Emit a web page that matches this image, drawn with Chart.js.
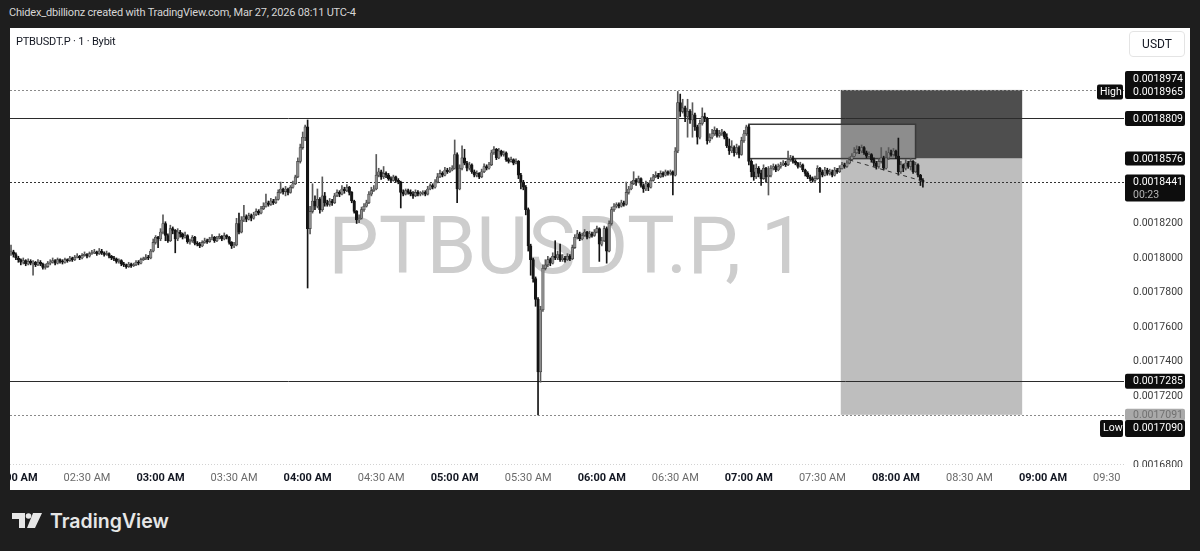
<!DOCTYPE html>
<html><head><meta charset="utf-8">
<script src="https://cdn.jsdelivr.net/npm/chart.js@4.4.1/dist/chart.umd.min.js"></script>
<style>
html,body{margin:0;padding:0;background:#1e1e1e;width:1200px;height:551px;overflow:hidden;font-family:Roboto,'Noto Sans',sans-serif;}
#hdr{position:absolute;left:9px;top:6px;color:#d6d6d6;font-size:11px;letter-spacing:-0.2px;white-space:nowrap;}
#panel{position:absolute;left:10px;top:28px;width:1180px;height:462px;background:#fff;overflow:hidden;}
#wm{position:absolute;left:0;top:178px;width:1114px;text-align:center;color:#cdcdcd;font-size:80px;line-height:80px;white-space:nowrap;}
#cv{position:absolute;left:0;top:0;}
#sym{position:absolute;left:6px;top:7px;font-size:11px;letter-spacing:-0.2px;color:#131722;white-space:nowrap;}
#usdt{position:absolute;left:1119px;top:3px;width:54px;height:24px;border:1px solid #e4e4e4;border-radius:4px;font-size:12px;line-height:24px;text-align:center;color:#131722;}
#logo{position:absolute;left:12px;top:513px;}
#tv{position:absolute;left:50px;top:511px;font-family:Inter,'Open Sans',sans-serif;font-weight:600;font-size:19.5px;line-height:20px;color:#e6e6e6;}
</style></head>
<body>
<div id="hdr">Chidex_dbillionz created with TradingView.com, Mar 27, 2026 08:11 UTC-4</div>
<div id="panel">
  <div id="wm">PTBUSDT.P, 1</div>
  <canvas id="cv" width="1180" height="462"></canvas>
  <div id="sym">PTBUSDT.P · 1 · Bybit</div>
  <div id="usdt">USDT</div>
</div>
<svg id="logo" width="31" height="16" viewBox="0 0 31 16"><path d="M0 0H13V15H7V6H0Z" fill="#e6e6e6"/><circle cx="16.5" cy="3" r="2.8" fill="#e6e6e6"/><path d="M21 0H30L23 15H15Z" fill="#e6e6e6"/></svg>
<div id="tv">TradingView</div>
<script>
// prices in units of 1e-7 USDT, one 1-minute candle per entry, first candle 01:59 AM
const PRICE_UNIT = 1e-7;
const firstCandleMinute = -1; // minutes after 02:00 AM
const opens = [
18030,18035,18020,18000,17990,17975,17985,17965,17980,17970,
17975,17960,17975,17965,17945,17950,17970,17975,17985,17970,
17990,17980,17975,17990,17985,18000,17990,18005,18010,18000,
18015,18020,18010,18025,18030,18035,18025,18040,18030,18020,
18025,18010,18000,17995,17980,17985,17965,17960,17950,17965,
17955,17960,17975,17970,17990,17995,18005,18000,18040,18090,
18120,18110,18150,18200,18130,18100,18170,18160,18110,18150,
18140,18120,18130,18095,18100,18120,18085,18080,18070,18090,
18100,18095,18110,18120,18100,18115,18125,18110,18130,18120,
18090,18070,18075,18200,18150,18220,18240,18225,18245,18230,
18250,18270,18260,18285,18300,18320,18310,18330,18320,18340,
18380,18400,18385,18400,18380,18410,18430,18470,18560,18640,
18700,18760,18170,18270,18330,18300,18340,18280,18360,18320,
18310,18330,18320,18360,18380,18370,18400,18390,18410,18380,
18330,18270,18220,18230,18280,18300,18320,18370,18390,18400,
18480,18500,18470,18490,18480,18460,18450,18470,18450,18440,
18380,18370,18390,18380,18370,18360,18380,18370,18375,18380,
18370,18400,18420,18410,18440,18470,18490,18480,18510,18500,
18510,18520,18600,18400,18520,18580,18550,18520,18540,18500,
18480,18490,18470,18500,18530,18520,18540,18610,18630,18580,
18620,18600,18610,18570,18560,18570,18550,18560,18480,18440,
18410,18280,18070,17990,17880,17760,17340,17700,17940,17960,
17990,17970,18010,18000,18020,17990,18000,17990,18010,17995,
18060,18120,18140,18110,18130,18150,18120,18140,18130,18150,
18170,18080,18100,18170,18040,18200,18280,18300,18310,18300,
18320,18310,18380,18400,18430,18450,18440,18460,18420,18400,
18430,18410,18450,18470,18480,18470,18490,18480,18500,18490,
18500,18480,18620,18900,18850,18870,18820,18850,18800,18830,
18760,18700,18780,18820,18810,18680,18700,18720,18740,18710,
18720,18730,18700,18650,18620,18640,18610,18640,18600,18680,
18720,18760,18560,18500,18470,18520,18490,18460,18520,18470,
18480,18520,18530,18510,18530,18540,18550,18540,18570,18580,
18560,18550,18530,18540,18510,18490,18470,18460,18450,18460,
18520,18500,18480,18510,18490,18500,18480,18510,18500,18520,
18540,18530,18550,18570,18590,18610,18630,18620,18640,18610,
18590,18600,18570,18550,18530,18560,18580,18520,18580,18610,
18600,18620,18590,18500,18540,18520,18550,18530,18560,18500,
18540,18480,18450];
const highs = [
18075,18045,18030,18010,17995,18000,17990,17995,17990,17985,
17980,17990,17985,17970,17965,17980,17990,18000,17990,18000,
17995,17990,18000,17995,18010,18005,18015,18025,18015,18025,
18035,18025,18035,18045,18050,18040,18055,18050,18035,18040,
18030,18015,18010,18000,17995,17990,17975,17965,17975,17970,
17970,17985,17985,18000,18005,18020,18015,18050,18110,18130,
18125,18170,18250,18210,18140,18190,18180,18165,18170,18160,
18145,18150,18135,18110,18130,18125,18095,18090,18100,18115,
18110,18120,18135,18125,18125,18140,18130,18145,18135,18125,
18095,18090,18230,18260,18240,18305,18250,18260,18255,18265,
18285,18280,18300,18320,18370,18330,18345,18340,18355,18395,
18440,18405,18415,18405,18420,18445,18480,18580,18660,18730,
18770,18800,18300,18430,18360,18400,18350,18470,18380,18335,
18345,18340,18375,18395,18390,18420,18410,18425,18415,18385,
18335,18275,18250,18295,18315,18335,18385,18410,18420,18600,
18520,18510,18530,18500,18490,18470,18480,18475,18460,18445,
18395,18400,18400,18395,18385,18395,18390,18385,18390,18390,
18415,18430,18430,18455,18490,18510,18500,18525,18520,18525,
18535,18684,18610,18540,18650,18630,18560,18555,18545,18510,
18505,18495,18515,18545,18540,18555,18625,18645,18635,18635,
18625,18620,18615,18580,18585,18575,18575,18565,18490,18450,
18420,18290,18080,18000,17890,17770,17720,17960,17990,18010,
18000,18030,18100,18040,18080,18020,18010,18025,18020,18075,
18135,18160,18150,18145,18165,18155,18155,18150,18165,18185,
18175,18120,18185,18180,18215,18295,18315,18320,18320,18335,
18330,18440,18415,18445,18500,18460,18475,18465,18430,18445,
18435,18465,18485,18500,18490,18505,18500,18510,18505,18510,
18505,18640,18965,18950,18920,18880,18920,18860,18900,18840,
18770,18800,18870,18840,18815,18720,18745,18760,18750,18740,
18745,18735,18720,18690,18680,18650,18660,18650,18700,18740,
18770,18770,18570,18540,18545,18530,18510,18540,18525,18530,
18535,18545,18540,18545,18555,18565,18560,18620,18595,18590,
18570,18555,18555,18545,18515,18500,18480,18470,18475,18535,
18525,18510,18525,18520,18515,18510,18525,18520,18535,18555,
18550,18565,18585,18605,18640,18650,18645,18655,18645,18620,
18615,18605,18580,18560,18575,18640,18590,18620,18640,18625,
18635,18625,18695,18560,18545,18570,18560,18575,18565,18555,
18545,18485,18460];
const lows = [
18015,18005,17990,17975,17960,17965,17955,17960,17960,17900,
17950,17955,17955,17935,17935,17945,17960,17970,17960,17965,
17970,17965,17970,17975,17980,17980,17985,18000,17990,17995,
18010,18000,18005,18020,18025,18015,18020,18020,18010,18015,
18000,17990,17985,17970,17970,17955,17950,17940,17945,17945,
17950,17955,17960,17965,17985,17990,17990,17995,18035,18080,
18060,18100,18140,18100,18090,18095,18140,18030,18100,18120,
18110,18115,18085,18080,18090,18075,18070,18060,18065,18085,
18085,18090,18105,18090,18095,18110,18100,18105,18110,18080,
18055,18060,18070,18140,18145,18210,18210,18220,18215,18225,
18245,18250,18255,18280,18295,18300,18305,18310,18315,18335,
18375,18370,18360,18365,18375,18405,18425,18465,18550,18630,
18680,17826,18140,18260,18280,18290,18260,18270,18300,18300,
18300,18305,18315,18355,18355,18365,18375,18385,18365,18320,
18260,18200,18205,18225,18270,18295,18315,18360,18385,18395,
18470,18455,18460,18465,18450,18440,18445,18440,18430,18290,
18360,18365,18370,18360,18345,18355,18360,18360,18365,18360,
18365,18395,18400,18405,18435,18465,18470,18475,18490,18495,
18505,18515,18320,18395,18510,18540,18505,18510,18490,18470,
18470,18460,18465,18495,18510,18515,18535,18600,18570,18575,
18590,18590,18560,18550,18555,18540,18545,18460,18400,18395,
18250,18040,17900,17860,17720,17090,17280,17690,17930,17950,
17955,17965,17990,17990,17980,17980,17975,17985,17985,17990,
18055,18110,18100,18105,18125,18110,18115,18120,18125,18145,
17980,18070,18095,17970,18035,18190,18270,18290,18290,18295,
18300,18305,18370,18395,18425,18420,18435,18410,18380,18390,
18390,18405,18445,18465,18460,18465,18470,18475,18480,18480,
18365,18475,18610,18820,18840,18790,18700,18780,18700,18740,
18660,18690,18770,18790,18660,18670,18690,18710,18700,18700,
18710,18690,18640,18600,18610,18590,18600,18580,18595,18670,
18710,18540,18470,18450,18460,18470,18420,18455,18440,18365,
18470,18510,18500,18505,18520,18535,18530,18535,18560,18550,
18540,18520,18525,18500,18475,18460,18445,18440,18440,18455,
18380,18470,18475,18480,18480,18470,18475,18490,18495,18515,
18520,18525,18545,18565,18585,18605,18605,18610,18600,18580,
18580,18555,18530,18515,18520,18550,18510,18515,18570,18590,
18590,18575,18480,18490,18500,18510,18520,18510,18490,18495,
18470,18420,18410];
const closes = [
18035,18020,18000,17990,17975,17985,17965,17980,17970,17975,
17960,17975,17965,17945,17950,17970,17975,17985,17970,17990,
17980,17975,17990,17985,18000,17990,18005,18010,18000,18015,
18020,18010,18025,18030,18035,18025,18040,18030,18020,18025,
18010,18000,17995,17980,17985,17965,17960,17950,17965,17955,
17960,17975,17970,17990,17995,18005,18000,18040,18090,18120,
18110,18150,18200,18130,18100,18170,18160,18110,18150,18140,
18120,18130,18095,18100,18120,18085,18080,18070,18090,18100,
18095,18110,18120,18100,18115,18125,18110,18130,18120,18090,
18070,18075,18200,18150,18220,18240,18225,18245,18230,18250,
18270,18260,18285,18300,18320,18310,18330,18320,18340,18380,
18400,18385,18400,18380,18410,18430,18470,18560,18640,18700,
18760,18170,18270,18330,18300,18340,18280,18360,18320,18310,
18330,18320,18360,18380,18370,18400,18390,18410,18380,18330,
18270,18220,18230,18280,18300,18320,18370,18390,18400,18480,
18500,18470,18490,18480,18460,18450,18470,18450,18440,18380,
18370,18390,18380,18370,18360,18380,18370,18375,18380,18370,
18400,18420,18410,18440,18470,18490,18480,18510,18500,18510,
18520,18600,18400,18520,18580,18550,18520,18540,18500,18480,
18490,18470,18500,18530,18520,18540,18610,18630,18580,18620,
18600,18610,18570,18560,18570,18550,18560,18480,18440,18410,
18280,18070,17990,17880,17760,17340,17700,17940,17960,17990,
17970,18010,18000,18020,17990,18000,17990,18010,17995,18060,
18120,18140,18110,18130,18150,18120,18140,18130,18150,18170,
18080,18100,18170,18040,18200,18280,18300,18310,18300,18320,
18310,18380,18400,18430,18450,18440,18460,18420,18400,18430,
18410,18450,18470,18480,18470,18490,18480,18500,18490,18500,
18480,18620,18900,18850,18870,18820,18850,18800,18830,18760,
18700,18780,18820,18810,18680,18700,18720,18740,18710,18720,
18730,18700,18650,18620,18640,18610,18640,18600,18680,18720,
18760,18560,18500,18470,18520,18490,18460,18520,18470,18480,
18520,18530,18510,18530,18540,18550,18540,18570,18580,18560,
18550,18530,18540,18510,18490,18470,18460,18450,18460,18520,
18500,18480,18510,18490,18500,18480,18510,18500,18520,18540,
18530,18550,18570,18590,18610,18630,18620,18640,18610,18590,
18600,18570,18550,18530,18560,18580,18520,18580,18610,18600,
18620,18590,18500,18540,18520,18550,18530,18560,18500,18540,
18480,18450,18441];

const timeTickLabels = ['02:00 AM','02:30 AM','03:00 AM','03:30 AM','04:00 AM','04:30 AM','05:00 AM','05:30 AM',
  '06:00 AM','06:30 AM','07:00 AM','07:30 AM','08:00 AM','08:30 AM','09:00 AM','09:30 AM'];
const priceTickLabels = ['0.0016800','0.0017200','0.0017400','0.0017600','0.0017800','0.0018000','0.0018200'];

// drawings (prices in 1e-7 units, times in minutes after 02:00 AM)
const solidLevels = [18809, 17285];
const dottedLevels = [18974, 18441, 17090];
const positionTimes = [337.5, 411.5];
const positionPrices = [18974, 18576, 17091]; // stop, entry, target
const boxTimes = [300, 368];
const boxPrices = [18775, 18576];
const trendTimes = [341, 372];
const trendPrices = [18568, 18441];
const highPrice = 18965, lowPrice = 17090, lastPrice = 18441;
const countdown = '00:23';

const fmt = v => (v * PRICE_UNIT).toFixed(7);
const priceTickValues = priceTickLabels.map(s => Math.round(parseFloat(s) / PRICE_UNIT));
const candleX = closes.map((_, i) => firstCandleMinute + i);
const isUp = closes.map((c, i) => c >= opens[i]);

const drawings = {
  id: 'drawings',
  beforeDatasetsDraw(chart) {
    const {ctx, chartArea: a, scales: {x, y}} = chart;
    ctx.save();
    ctx.beginPath(); ctx.rect(a.left, a.top, a.right - a.left, a.bottom - a.top); ctx.clip();
    const p0 = x.getPixelForValue(positionTimes[0]), p1 = x.getPixelForValue(positionTimes[1]);
    const ys = y.getPixelForValue(positionPrices[0]), ye = y.getPixelForValue(positionPrices[1]), yt = y.getPixelForValue(positionPrices[2]);
    ctx.fillStyle = '#4e4e4e'; ctx.fillRect(p0, ys, p1 - p0, ye - ys);
    ctx.fillStyle = '#bebebe'; ctx.fillRect(p0, ye, p1 - p0, yt - ye);
    const b0 = x.getPixelForValue(boxTimes[0]), b1 = x.getPixelForValue(boxTimes[1]);
    const bt = y.getPixelForValue(boxPrices[0]), bb = y.getPixelForValue(boxPrices[1]);
    ctx.fillStyle = 'rgba(255,255,255,0.36)'; ctx.fillRect(b0, bt, b1 - b0, bb - bt);
    ctx.strokeStyle = '#3a3a3a'; ctx.lineWidth = 1.5; ctx.strokeRect(b0, bt, b1 - b0, bb - bt);
    ctx.lineWidth = 1;
    solidLevels.forEach(v => {
      const py = Math.round(y.getPixelForValue(v)) + 0.5;
      ctx.strokeStyle = '#2b2b2b'; ctx.setLineDash([]);
      ctx.beginPath(); ctx.moveTo(a.left, py); ctx.lineTo(a.right, py); ctx.stroke();
    });
    dottedLevels.forEach(v => {
      const py = Math.round(y.getPixelForValue(v)) + 0.5;
      ctx.strokeStyle = v === lastPrice ? '#333' : '#8a8a8a'; ctx.setLineDash([2, 2]);
      ctx.beginPath(); ctx.moveTo(a.left, py); ctx.lineTo(a.right, py); ctx.stroke();
    });
    ctx.strokeStyle = '#d2d2d2'; ctx.setLineDash([1, 2]);
    ctx.beginPath(); ctx.moveTo(a.left, a.bottom - 0.5); ctx.lineTo(a.right, a.bottom - 0.5); ctx.stroke();
    ctx.restore();
  },
  afterDraw(chart) {
    const {ctx, chartArea: a, scales: {y}} = chart;
    ctx.save();
    ctx.fillStyle = '#fff'; ctx.fillRect(a.right - 1, a.bottom + 2, 80, 40);
    const L = a.right + 1, W = 60, TX = a.right + 9;
    ctx.font = '10.5px Roboto'; ctx.textBaseline = 'middle'; ctx.textAlign = 'left';
    const box = (x0, y0, w, h, bg) => { ctx.fillStyle = bg; ctx.beginPath(); ctx.roundRect(x0, y0, w, h, 2); ctx.fill(); };
    const txt = (s, yy, c, x0) => { ctx.fillStyle = c; ctx.fillText(s, x0 === undefined ? TX : x0, yy); };
    const yS = y.getPixelForValue(positionPrices[0]), yH = y.getPixelForValue(highPrice);
    box(L, yS - 19, W, (yH + 7.5) - (yS - 19), '#0d0d0d');
    txt(fmt(positionPrices[0]), yS - 11, '#fff');
    txt(fmt(highPrice), yH + 1, '#fff');
    box(a.right - 27, yH - 7, 26, 15, '#0d0d0d');
    txt('High', yH + 0.5, '#fff', a.right - 24);
    solidLevels.forEach(v => { const py = y.getPixelForValue(v); box(L, py - 7.5, W, 15, '#0d0d0d'); txt(fmt(v), py + 0.5, '#fff'); });
    const yE = y.getPixelForValue(positionPrices[1]);
    box(L, yE - 7, W, 14, '#0d0d0d'); txt(fmt(positionPrices[1]), yE + 0.5, '#fff');
    const yL = y.getPixelForValue(lastPrice);
    box(L, yL - 7.5, W, 27, '#0d0d0d'); txt(fmt(lastPrice), yL + 0.5, '#fff'); txt(countdown, yL + 13, '#b5b5b5');
    const yT = y.getPixelForValue(positionPrices[2]);
    box(L, yT - 6, W, 12, '#a9a9a9'); txt(fmt(positionPrices[2]), yT + 0.5, '#707070');
    const yLo = y.getPixelForValue(lowPrice) + 13;
    box(L, yLo - 8, W, 17, '#0d0d0d'); txt(fmt(lowPrice), yLo + 0.5, '#fff');
    box(a.right - 24, yLo - 8, 23, 17, '#0d0d0d'); txt('Low', yLo + 0.5, '#fff', a.right - 21);
    ctx.restore();
  }
};

new Chart(document.getElementById('cv'), {
  type: 'bar',
  data: {
    datasets: [
      { label: 'wicks', data: candleX.map((x, i) => ({x, y: [lows[i], highs[i]]})),
        backgroundColor: isUp.map(u => u ? '#5a5a5a' : '#141414'), barThickness: 1, grouped: false, order: 3 },
      { label: 'bodies', data: candleX.map((x, i) => ({x, y: [opens[i], closes[i]]})),
        backgroundColor: isUp.map(u => u ? '#8c8c8c' : '#141414'),
        borderColor: isUp.map(u => u ? '#3a3a3a' : '#141414'), borderWidth: 0.6, borderSkipped: false,
        barThickness: 2.6, minBarLength: 1, grouped: false, order: 2 },
      { type: 'line', label: 'trend', data: trendTimes.map((t, i) => ({x: t, y: trendPrices[i]})),
        borderColor: '#333', borderWidth: 1, borderDash: [4, 4], pointRadius: 0, order: 1 }
    ]
  },
  options: {
    responsive: false, animation: false, devicePixelRatio: 1, events: [],
    layout: { padding: 0 },
    plugins: { legend: { display: false }, tooltip: { enabled: false } },
    scales: {
      x: { type: 'linear', min: -1.41, max: 453.04, offset: false,
        grid: { display: false, drawTicks: false }, border: { display: false },
        ticks: { stepSize: 30, includeBounds: false, autoSkip: false, maxRotation: 0, padding: 7,
          callback: v => timeTickLabels[Math.round(v / 30)] || '',
          font: c => ({ family: 'Roboto', size: 11, weight: (c.tick && c.tick.value % 60 === 0) ? 'bold' : 'normal' }),
          color: c => (c.tick && c.tick.value % 60 === 0) ? '#131722' : '#6a6a6a' },
        afterFit: s => { s.height = 25; s.paddingLeft = 0; s.paddingRight = 0; } },
      y: { position: 'right', min: 16800, max: 19333,
        grid: { display: false, drawTicks: false }, border: { display: false },
        ticks: { stepSize: 200, includeBounds: false, padding: 9,
          callback: v => { const k = priceTickValues.indexOf(Math.round(v)); return k >= 0 ? priceTickLabels[k] : ''; },
          font: { family: 'Roboto', size: 10.5 }, color: '#3a3a3a' },
        afterFit: s => { s.width = 66; s.paddingTop = 0; s.paddingBottom = 0; } }
    }
  },
  plugins: [drawings]
});
</script>
</body></html>
